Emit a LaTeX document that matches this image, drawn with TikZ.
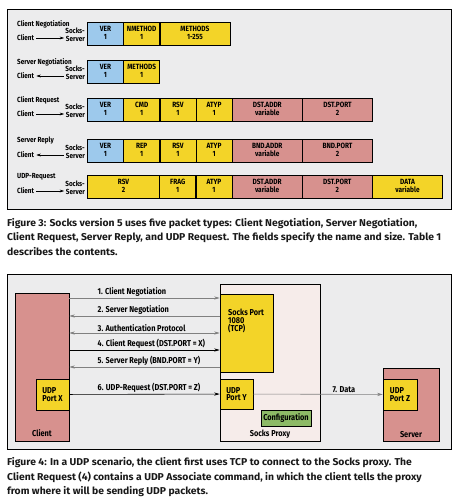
\documentclass[tikz,border=0pt]{standalone}
\usepackage{fontspec}
\setmainfont{Fira Sans}[FakeStretch=1.04]
\newfontfamily\narrowfont{Fira Sans}[FakeStretch=0.86]
\usetikzlibrary{matrix, positioning, arrows.meta}

\definecolor{panelgray}{RGB}{236,236,237}
\definecolor{verblue}{RGB}{157,201,236}
\definecolor{fieldyellow}{RGB}{243,212,40}
\definecolor{fieldpink}{RGB}{215,145,142}
\definecolor{proxypink}{RGB}{246,236,234}
\definecolor{confgreen}{RGB}{141,186,102}
\definecolor{msggray}{RGB}{128,128,128}

\newcommand{\fieldfont}{\narrowfont\bfseries\fontsize{7.6}{7.6}\selectfont}
\newcommand{\lblfont}{\narrowfont\bfseries\fontsize{7.4}{7.6}\selectfont}
\newcommand{\msgfont}{\narrowfont\bfseries\fontsize{8.6}{8.6}\selectfont}
\newcommand{\portfont}{\narrowfont\bfseries\fontsize{8.6}{7.8}\selectfont}
\newcommand{\fl}[2]{\begin{tabular}{@{}c@{}}#1\\#2\end{tabular}}

\begin{document}
\begin{tikzpicture}[x=1bp, y=-1bp,
    pkt/.style={matrix of nodes, inner sep=0pt, anchor=north west, column sep=-\pgflinewidth,
      nodes={draw, fill=fieldyellow, line width=0.6bp, minimum width=36bp, minimum height=23bp, inner sep=0pt, font=\fieldfont}},
    ver/.style={fill=verblue},
    dbl/.style={minimum width=72bp},
    wide/.style={minimum width=70bp},
    var/.style={fill=fieldpink, minimum width=70bp},
    lbl/.style={font=\lblfont, inner sep=1pt},
    tosrv/.style={-{Stealth[length=4.5bp, width=2.8bp]}, line width=0.5bp},
    tocli/.style={{Stealth[length=4.5bp, width=2.8bp]}-, line width=0.5bp},
    panel/.style={draw, line width=0.9bp, fill=panelgray},
    host/.style={draw, line width=0.6bp, fill=fieldpink, inner sep=0pt},
    port/.style={draw, line width=0.6bp, fill=fieldyellow, inner sep=0pt, font=\portfont, align=left},
    boxlbl/.style={font=\msgfont, inner sep=1pt},
    msg/.style={line width=0.6bp, >={Stealth[length=5.5bp, width=3.2bp]}},
    srvg/.style={->, msggray},
    clig/.style={<-, msggray},
    bothg/.style={<->, msggray},
    srvb/.style={->},
    msglbl/.style={font=\msgfont, inner sep=1.5pt, anchor=south west},
    caption/.style={font=\bfseries\fontsize{10}{14.5}\selectfont, align=left, anchor=north west, inner sep=0pt, text=black!90}
  ]
  \useasboundingbox (0,0) rectangle (459,504);

  % packet formats
  \draw[panel] (7,9) rectangle (451,209);

  \matrix (cneg) [pkt] at (87,22) {
    |[ver]| \fl{VER}{1} & \fl{NMETHOD}{1} & |[wide]| \fl{METHODS}{1-255} \\
  };
  \matrix (sneg) [pkt] at (87,60) {
    |[ver]| \fl{VER}{1} & \fl{METHODS}{1} \\
  };
  \matrix (creq) [pkt] at (87,98) {
    |[ver]| \fl{VER}{1} & \fl{CMD}{1} & \fl{RSV}{1} & \fl{ATYP}{1} & |[var]| \fl{DST.ADDR}{variable} & |[var]| \fl{DST.PORT}{2} \\
  };
  \matrix (srep) [pkt] at (87,139) {
    |[ver]| \fl{VER}{1} & \fl{REP}{1} & \fl{RSV}{1} & \fl{ATYP}{1} & |[var]| \fl{BND.ADDR}{variable} & |[var]| \fl{BND.PORT}{2} \\
  };
  \matrix (udpr) [pkt] at (87,175) {
    |[dbl]| \fl{RSV}{2} & \fl{FRAG}{1} & \fl{ATYP}{1} & |[var]| \fl{DST.ADDR}{variable} & |[var]| \fl{DST.PORT}{2} & |[wide]| \fl{DATA}{variable} \\
  };

  \foreach \n/\t/\y/\dir in {cneg/Client Negotiation/22/tosrv, sneg/Server Negotiation/60/tocli,
      creq/Client Request/98/tosrv, srep/Server Reply/139/tocli, udpr/UDP-Request/175/tosrv} {
    \node[lbl, anchor=west] (\n-t) at (16,\y+2) {\t};
    \node[lbl, anchor=west] (\n-c) at (16,\y+16) {Client};
    \node[lbl, anchor=east, align=right] (\n-s) at (86,\y+12.5) {Socks-\\Server};
    \draw[\dir] ([xshift=1bp]\n-c.east) -- (\n-c.east -| \n-s.west);
  }

  \node[caption] (cap3) at (7,218) {Figure 3: Socks version 5 uses five packet types: Client Negotiation, Server Negotiation,\\
    Client Request, Server Reply, and UDP Request. The fields specify the name and size. Table 1\\
    describes the contents.};

  % udp scenario
  \draw[panel] (7,274) rectangle (451,449);

  \node[host, minimum width=54bp, minimum height=148bp] (client) at (42,367) {};
  \node[boxlbl, above=3bp of client.south] (client-l) {Client};
  \node[port, minimum width=33bp, minimum height=31bp] (udpx) at (52.5,394.5) {UDP\\Port X};

  \node[host, fill=proxypink, minimum width=100bp, minimum height=157bp] (proxy) at (270,362.5) {};
  \node[port, minimum width=53bp, minimum height=78bp] (sport) at (246.5,333) {};
  \node[boxlbl, align=left, anchor=north west, font=\portfont] (sport-l) at (227,308) {Socks Port\\1080\\(TCP)};
  \node[port, minimum width=33bp, minimum height=30bp] (udpy) at (236.5,394) {UDP\\Port Y};
  \node[port, fill=confgreen, minimum width=50bp, minimum height=16bp] (conf) at (286,418) {Configuration};
  \node[boxlbl, above=2bp of proxy.south] (proxy-l) {Socks Proxy};

  \node[host, minimum width=56bp, minimum height=73bp] (server) at (411,404.5) {};
  \node[port, minimum width=34bp, minimum height=31bp] (udpz) at (400,394.5) {UDP\\Port Z};
  \node[boxlbl, above=2bp of server.south] (server-l) {Server};

  \foreach \i/\y/\t/\s in {1/298/1. Client Negotiation/srvg, 2/316/2. Server Negotiation/clig,
      3/333/3. Authentication Protocol/bothg, 4/350/4. Client Request (DST.PORT = X)/srvb,
      5/367/5. Server Reply (BND.PORT = Y)/clig} {
    \draw[msg, \s] (client.east |- 0,\y) -- (sport.west |- 0,\y);
    \node[msglbl] (msg-\i) at (96,\y) {\t};
  }
  \draw[msg, ->] (udpx) -- (udpy);
  \node[msglbl] (msg-6) at (96,394.5) {6. UDP-Request (DST.PORT = Z)};
  \draw[msg, srvg] (udpy) -- (udpz) node[msglbl, anchor=south, pos=0.7, text=black] (msg-7) {7. Data};

  \node[caption] (cap4) at (7,457.5) {Figure 4: In a UDP scenario, the client first uses TCP to connect to the Socks proxy. The\\
    Client Request (4) contains a UDP Associate command, in which the client tells the proxy\\
    from where it will be sending UDP packets.};
\end{tikzpicture}
\end{document}
